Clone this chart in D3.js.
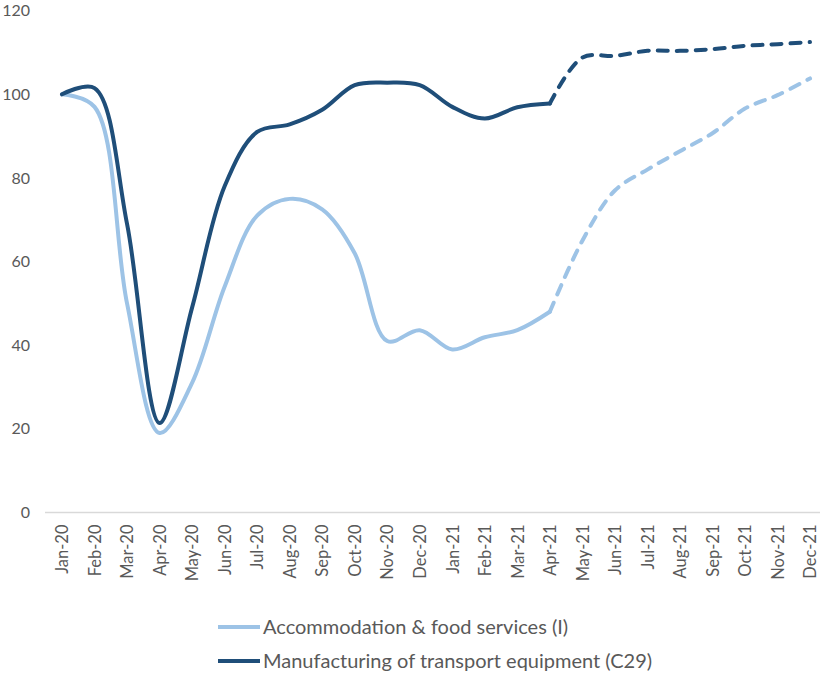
<!DOCTYPE html>
<html>
<head>
<meta charset="utf-8">
<script src="https://cdn.jsdelivr.net/npm/d3@7"></script>
<style>
  body { margin: 0; background: #fff; }
  svg { display: block; font-family: Lato, "Open Sans", sans-serif; }
</style>
</head>
<body>
<div class="container"></div>
<script>
const months = ["Jan-20", "Feb-20", "Mar-20", "Apr-20", "May-20", "Jun-20", "Jul-20", "Aug-20",
  "Sep-20", "Oct-20", "Nov-20", "Dec-20", "Jan-21", "Feb-21", "Mar-21", "Apr-21",
  "May-21", "Jun-21", "Jul-21", "Aug-21", "Sep-21", "Oct-21", "Nov-21", "Dec-21"];
const accommodation = [100, 97, 50, 19, 31, 54, 71, 75, 72.5, 62, 41, 43.6, 39, 41.9, 43.6, 48,
  65, 77, 82, 86.4, 90.7, 96.6, 99.8, 103.8];
const manufacturing = [100, 101.5, 69, 21.4, 49, 78, 91, 92.8, 96.3, 102.2, 102.8, 102.2, 97, 94.2, 96.9, 97.8,
  108.8, 109.2, 110.4, 110.4, 110.8, 111.6, 112, 112.5];
const yTicks = [0, 20, 40, 60, 80, 100, 120];
const forecastFrom = "Apr-21";

const seriesNames = ["Accommodation & food services (I)", "Manufacturing of transport equipment (C29)"];
const seriesColors = ["#9dc3e6", "#1f4e79"];

const width = 820, height = 674;

const svg = d3.select(".container")
  .append("svg")
  .attr("width", width)
  .attr("height", height);

const x = d3.scalePoint().domain(months).range([62, 810]);
const y = d3.scaleLinear().domain([0, 120]).range([512.5, 10.7]);

// baseline
svg.append("line")
  .attr("x1", 45).attr("x2", 820)
  .attr("y1", y(0)).attr("y2", y(0))
  .attr("stroke", "#d9d9d9")
  .attr("stroke-width", 1.5);

// y axis labels
const yAxis = d3.axisLeft(y).tickValues(yTicks).tickSize(0).tickPadding(0);
const gy = svg.append("g")
  .attr("transform", "translate(30,0)")
  .call(yAxis);
gy.select(".domain").remove();
gy.selectAll("text")
  .attr("fill", "#595959")
  .style("font-size", "16px")
  .style("font-family", "Lato, 'Open Sans', sans-serif");

// x axis labels
const xAxis = d3.axisBottom(x).tickSize(0);
const gx = svg.append("g")
  .attr("transform", `translate(0,${y(0)})`)
  .call(xAxis);
gx.select(".domain").remove();
gx.selectAll("text")
  .attr("fill", "#595959")
  .style("font-size", "16.5px")
  .style("font-family", "Lato, 'Open Sans', sans-serif")
  .attr("text-anchor", "end")
  .attr("dy", "0.35em")
  .attr("transform", "translate(0,12) rotate(-90)")
  .attr("x", 0)
  .attr("y", 0);

const cut = months.indexOf(forecastFrom);
const line = d3.line()
  .x(d => x(d.m))
  .y(d => y(d.v))
  .curve(d3.curveCatmullRom.alpha(0.5));

[accommodation, manufacturing].forEach((vals, i) => {
  const pts = vals.map((v, j) => ({ m: months[j], v }));
  svg.append("path")
    .datum(pts.slice(0, cut + 1))
    .attr("d", line)
    .attr("fill", "none")
    .attr("stroke", seriesColors[i])
    .attr("stroke-width", 4)
    .attr("stroke-linejoin", "round")
    .attr("stroke-linecap", "round");
  svg.append("path")
    .datum(pts.slice(cut))
    .attr("d", line)
    .attr("fill", "none")
    .attr("stroke", seriesColors[i])
    .attr("stroke-width", 4)
    .attr("stroke-dasharray", "10,9")
    .attr("stroke-linecap", "round");
});

// legend
const legend = svg.append("g")
  .selectAll("g")
  .data(seriesNames)
  .enter()
  .append("g")
  .attr("transform", (d, i) => `translate(218,${627 + i * 34})`);
legend.append("line")
  .attr("x1", 0).attr("x2", 42)
  .attr("stroke", (d, i) => seriesColors[i])
  .attr("stroke-width", 4);
legend.append("text")
  .attr("x", 45)
  .attr("dy", "0.35em")
  .attr("fill", "#595959")
  .style("font-size", "20px")
  .text(d => d);
</script>
</body>
</html>
